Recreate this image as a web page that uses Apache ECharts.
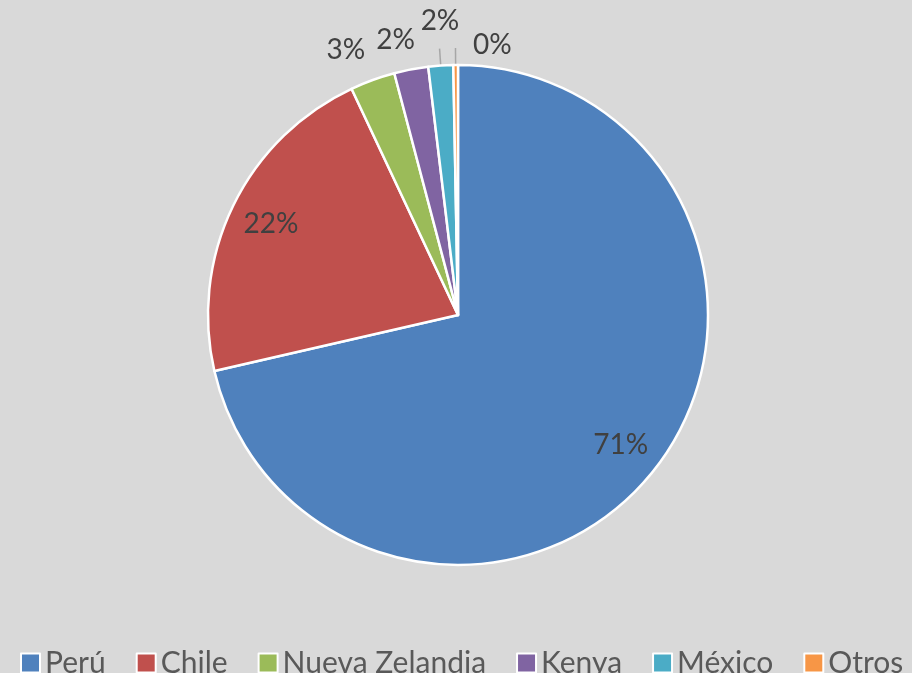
<!DOCTYPE html>
<html>
<head>
<meta charset="utf-8">
<script src="https://cdn.jsdelivr.net/npm/echarts@6/dist/echarts.min.js"></script>
<style>
  html, body { margin: 0; padding: 0; background: #d9d9d9; }
  #main { width: 912px; height: 673px; }
</style>
</head>
<body>
<div id="main"></div>
<script>
// datos del gráfico
var paises = ['Perú', 'Chile', 'Nueva Zelandia', 'Kenya', 'México', 'Otros'];
var valores = [71.4, 21.6, 2.9, 2.2, 1.6, 0.3];
var colores = ['#4f81bd', '#c0504d', '#9bbb59', '#8064a2', '#4bacc6', '#f79646'];

var fuente = 'Lato';
var cx = 458, cy = 315, r = 250;
// pequeño ajuste de las etiquetas exteriores (dx, dy)
var ajustes = [[0, 0], [0, 0], [-13, 8], [-8, 10], [2, -5], [37, 20]];

function datos(fn) {
    var res = [];
    for (var i = 0; i < paises.length; i++) {
        res.push(fn(paises[i], valores[i], i));
    }
    return res;
}

var myChart = echarts.init(document.getElementById('main'));

var option = {
    backgroundColor: '#d9d9d9',
    legend: {
        top: 643,
        left: 15,
        itemWidth: 19,
        itemHeight: 19,
        itemGap: 30,
        icon: 'rect',
        itemStyle: { borderColor: '#ffffff', borderWidth: 2 },
        textStyle: { fontFamily: fuente, fontSize: 30, color: '#595959' },
        data: paises
    },
    series: [
        {
            // tarta principal
            type: 'pie',
            center: [cx, cy],
            radius: [0, r],
            startAngle: 90,
            clockwise: true,
            animation: false,
            avoidLabelOverlap: false,
            itemStyle: { borderColor: '#ffffff', borderWidth: 2.5 },
            data: datos(function (n, v, i) {
                var conLinea = i >= 4;
                return {
                    name: n, value: v, itemStyle: { color: colores[i] },
                    label: { show: conLinea, position: 'outside', formatter: ' ', fontSize: 4 },
                    labelLine: {
                        show: conLinea, length: 17, length2: 0,
                        lineStyle: { color: '#a6a6a6', width: 1.5 }
                    }
                };
            })
        },
        {
            // etiquetas grandes dentro
            type: 'pie',
            center: [cx, cy],
            radius: [160, r],
            startAngle: 90,
            silent: true,
            animation: false,
            percentPrecision: 0,
            labelLayout: { hideOverlap: false },
            itemStyle: { color: 'transparent' },
            labelLine: { show: false },
            data: datos(function (n, v, i) {
                return {
                    name: n, value: v,
                    label: {
                        show: i < 2, position: 'inside', formatter: '{d}%',
                        fontFamily: fuente, fontSize: 28, color: '#404040'
                    }
                };
            })
        },
        {
            // etiquetas pequeñas fuera
            type: 'pie',
            center: [cx, cy],
            radius: [r + 17, r + 57],
            startAngle: 90,
            silent: true,
            animation: false,
            percentPrecision: 0,
            avoidLabelOverlap: false,
            labelLayout: function (params) {
                var d = ajustes[params.dataIndex];
                return { dx: d[0], dy: d[1], hideOverlap: false };
            },
            itemStyle: { color: 'transparent' },
            labelLine: { show: false },
            data: datos(function (n, v, i) {
                return {
                    name: n, value: v,
                    label: {
                        show: i >= 2, position: 'inside', formatter: '{d}%',
                        fontFamily: fuente, fontSize: 28, color: '#404040'
                    }
                };
            })
        }
    ]
};

myChart.setOption(option);
</script>
</body>
</html>
